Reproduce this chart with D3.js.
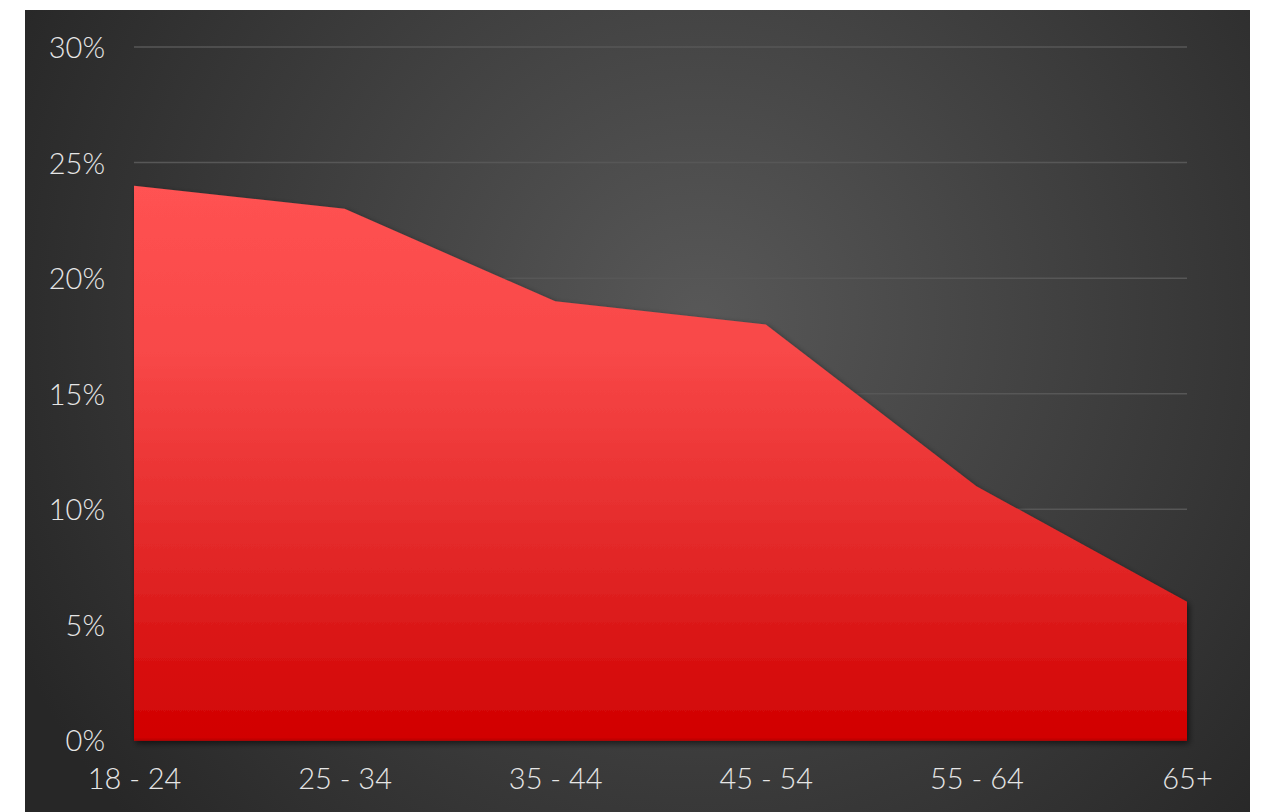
<!DOCTYPE html>
<html><head><meta charset="utf-8">
<script src="https://cdn.jsdelivr.net/npm/d3@7"></script>
<style>html,body{margin:0;padding:0;background:#fff;}svg{display:block;}</style>
</head><body>
<svg id="chart" width="1265" height="812"></svg>
<script>
const categories = ["18 - 24","25 - 34","35 - 44","45 - 54","55 - 64","65+"];
const values = [0.24,0.23,0.19,0.18,0.11,0.06];
const yTicks = [0,0.05,0.10,0.15,0.20,0.25,0.30];

const svg = d3.select("#chart");
const defs = svg.append("defs");
const bg = defs.append("radialGradient").attr("id","bg").attr("gradientUnits","userSpaceOnUse")
  .attr("cx",700).attr("cy",320).attr("r",760);
bg.append("stop").attr("offset","0%").attr("stop-color","#585858");
bg.append("stop").attr("offset","100%").attr("stop-color","#272727");
const ag = defs.append("linearGradient").attr("id","ag").attr("x1",0).attr("y1",0).attr("x2",0).attr("y2",1);
ag.append("stop").attr("offset","0%").attr("stop-color","#ff5252");
ag.append("stop").attr("offset","30%").attr("stop-color","#f84848");
ag.append("stop").attr("offset","70%").attr("stop-color","#e02424");
ag.append("stop").attr("offset","100%").attr("stop-color","#d10000");
const sh = defs.append("filter").attr("id","sh").attr("x","-5%").attr("y","-5%").attr("width","110%").attr("height","115%");
sh.append("feDropShadow").attr("dx",2).attr("dy",3).attr("stdDeviation",3).attr("flood-color","#000").attr("flood-opacity",0.6);

svg.append("rect").attr("x",25).attr("y",10).attr("width",1225).attr("height",802).attr("fill","url(#bg)");

const x = d3.scalePoint().domain(categories).range([134,1187]);
const y = d3.scaleLinear().domain([0,0.30]).range([740.5,47]);

const font = "'Lato', 'Noto Sans', sans-serif";

// gridlines
svg.append("g").selectAll("line").data(yTicks.filter(d=>d>0)).join("line")
  .attr("x1",134).attr("x2",1187)
  .attr("y1",d=>y(d)).attr("y2",d=>y(d))
  .attr("stroke","#575757").attr("stroke-width",1.5);

const area = d3.area().x((d,i)=>x(categories[i])).y0(y(0)).y1(d=>y(d));
svg.append("path").datum(values).attr("d",area).attr("fill","url(#ag)").attr("filter","url(#sh)");
svg.append("line").attr("x1",134).attr("x2",1187).attr("y1",y(0)-1).attr("y2",y(0)-1)
  .attr("stroke","#c00000").attr("stroke-width",2);

// y axis
const yAxis = d3.axisLeft(y).tickValues(yTicks).tickFormat(d3.format(".0%")).tickSize(0).tickPadding(0);
const gy = svg.append("g").attr("transform","translate(105,0)").call(yAxis);
gy.select(".domain").remove();
gy.selectAll("text").attr("fill","#e6e6e6").style("font-family",font).style("font-size","29px").style("font-weight","300").attr("dy","0.36em");

// x axis
const xAxis = d3.axisBottom(x).tickSize(0).tickPadding(0);
const gx = svg.append("g").attr("transform","translate(0,779)").call(xAxis);
gx.select(".domain").remove();
gx.selectAll("text").attr("fill","#e6e6e6").style("font-family",font).style("font-size","29px").style("font-weight","300").attr("dy","0.36em");
</script>
</body></html>
